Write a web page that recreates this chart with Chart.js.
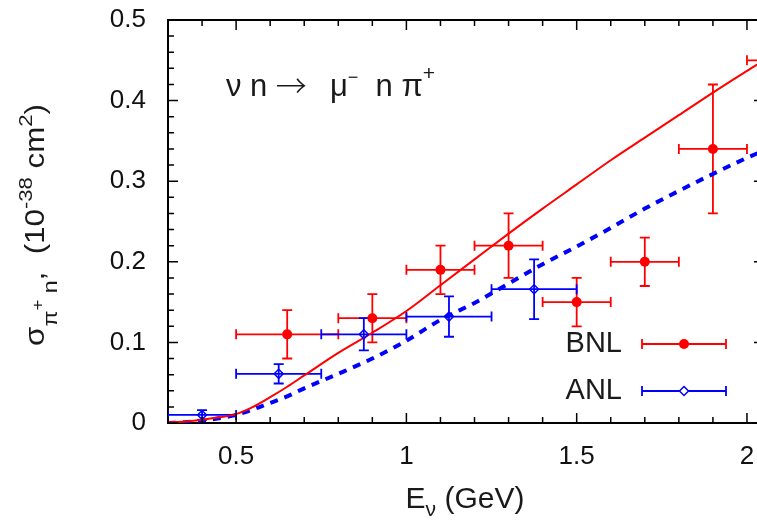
<!DOCTYPE html>
<html>
<head>
<meta charset="utf-8">
<script src="https://cdn.jsdelivr.net/npm/chart.js@4.4.0/dist/chart.umd.min.js"></script>
<style>
html, body { margin: 0; padding: 0; background: #fff; overflow: hidden; }
</style>
</head>
<body>
<canvas id="c" width="770" height="521"></canvas>
<script>
// BNL measurements (filled circles)
const bnlE = [0.65, 0.9, 1.1, 1.3, 1.5, 1.7, 1.9, 2.1];
const bnlELow = [0.5, 0.8, 1.0, 1.2, 1.4, 1.6, 1.8, 2.0];
const bnlEHigh = [0.8, 1.0, 1.2, 1.4, 1.6, 1.8, 2.0, 2.2];
const bnlSigma = [0.11, 0.13, 0.19, 0.22, 0.15, 0.20, 0.34, 0.45];
const bnlErr = [0.03, 0.03, 0.03, 0.04, 0.03, 0.03, 0.08, 0.05];

// ANL measurements (open diamonds)
const anlE = [0.4, 0.625, 0.875, 1.125, 1.375];
const anlELow = [0.3, 0.5, 0.75, 1.0, 1.25];
const anlEHigh = [0.5, 0.75, 1.0, 1.25, 1.5];
const anlSigma = [0.01, 0.061, 0.11, 0.132, 0.166];
const anlErr = [0.006, 0.012, 0.02, 0.025, 0.037];

// model curves
const curveE = [0.3, 0.35, 0.4, 0.45, 0.5, 0.55, 0.6, 0.65, 0.7, 0.8, 0.9, 1.0, 1.1, 1.2, 1.3, 1.4, 1.5, 1.6, 1.7, 1.8, 1.9, 2.0, 2.05, 2.1];
const solidCurve = [0.001, 0.002, 0.004, 0.007, 0.011, 0.02, 0.032, 0.045, 0.059, 0.087, 0.112, 0.139, 0.171, 0.203, 0.235, 0.266, 0.296, 0.326, 0.354, 0.382, 0.41, 0.437, 0.45, 0.463];
const dashedCurve = [0.0, 0.001, 0.003, 0.006, 0.01, 0.017, 0.025, 0.033, 0.043, 0.061, 0.08, 0.102, 0.128, 0.149, 0.173, 0.197, 0.219, 0.242, 0.266, 0.288, 0.309, 0.329, 0.338, 0.347];

const xTickStep = 0.1, xLabelStep = 0.5;
const yTickStep = 0.02, yLabelStep = 0.1;

const red = "#ff0000";
const blue = "#0000ff";
const fontName = '"Liberation Sans", Arial, sans-serif';

const isStep = (v, s) => Math.abs(v / s - Math.round(v / s)) < 1e-6;
const fmt = v => String(+v.toFixed(2));

function points(xs, ys) {
	return xs.map((x, i) => ({ x: x, y: ys[i] }));
}

function errors(xlo, xhi, ys, dy) {
	return ys.map((y, i) => ({ xMin: xlo[i], xMax: xhi[i], yMin: y - dy[i], yMax: y + dy[i] }));
}

/**
 * draws a run of text pieces (size, vertical shift, font) one after another
 */
function drawRich(ctx, parts, x, y, align) {
	const font = p => (p.weight || "normal") + " " + p.size + "px " + (p.family || fontName);
	let w = 0;
	parts.forEach(p => {
		ctx.font = font(p);
		w += ctx.measureText(p.t).width;
	});
	let cx = align === "center" ? x - w / 2 : align === "right" ? x - w : x;
	ctx.textAlign = "left";
	ctx.textBaseline = "alphabetic";
	parts.forEach(p => {
		ctx.font = font(p);
		ctx.fillText(p.t, cx, y + (p.dy || 0));
		cx += ctx.measureText(p.t).width;
	});
}

const errorBarPlugin = {
	id: "errorBars",
	beforeDatasetsDraw(chart) {
		const { ctx, chartArea: a, scales: { x, y } } = chart;
		ctx.save();
		ctx.beginPath();
		ctx.rect(a.left, a.top, a.right - a.left, a.bottom - a.top);
		ctx.clip();
		chart.data.datasets.forEach(ds => {
			if (!ds.errorBars) return;
			ctx.strokeStyle = ds.borderColor;
			ctx.lineWidth = 1.8;
			ds.errorBars.forEach((e, i) => {
				const xp = x.getPixelForValue(ds.data[i].x);
				const yp = y.getPixelForValue(ds.data[i].y);
				const x1 = x.getPixelForValue(e.xMin), x2 = x.getPixelForValue(e.xMax);
				const y1 = y.getPixelForValue(e.yMin), y2 = y.getPixelForValue(e.yMax);
				ctx.beginPath();
				ctx.moveTo(x1, yp); ctx.lineTo(x2, yp);
				ctx.moveTo(x1, yp - 5); ctx.lineTo(x1, yp + 5);
				ctx.moveTo(x2, yp - 5); ctx.lineTo(x2, yp + 5);
				ctx.moveTo(xp, y1); ctx.lineTo(xp, y2);
				ctx.moveTo(xp - 5, y1); ctx.lineTo(xp + 5, y1);
				ctx.moveTo(xp - 5, y2); ctx.lineTo(xp + 5, y2);
				ctx.stroke();
			});
		});
		ctx.restore();
	}
};

const framePlugin = {
	id: "frame",
	afterDraw(chart) {
		const { ctx, chartArea: a, scales: { x, y } } = chart;
		ctx.save();
		ctx.strokeStyle = "#000";
		ctx.lineWidth = 2;
		ctx.beginPath();
		ctx.moveTo(a.left, a.top);
		ctx.lineTo(a.right, a.top);
		ctx.lineTo(a.right, a.bottom);
		ctx.stroke();
		ctx.lineWidth = 1.5;
		ctx.beginPath();
		x.ticks.forEach(t => {
			if (!isStep(t.value, xTickStep)) return;
			const px = x.getPixelForValue(t.value);
			const len = isStep(t.value, xLabelStep) ? 10 : 6;
			ctx.moveTo(px, a.bottom); ctx.lineTo(px, a.bottom - len);
			ctx.moveTo(px, a.top); ctx.lineTo(px, a.top + len);
		});
		y.ticks.forEach(t => {
			if (!isStep(t.value, yTickStep)) return;
			const py = y.getPixelForValue(t.value);
			const len = isStep(t.value, yLabelStep) ? 10 : 6;
			ctx.moveTo(a.left, py); ctx.lineTo(a.left + len, py);
			ctx.moveTo(a.right, py); ctx.lineTo(a.right - len, py);
		});
		ctx.stroke();

		// axis titles and reaction label
		ctx.fillStyle = "#1a1a1a";
		drawRich(ctx, [
			{ t: "E", size: 30 },
			{ t: "\u03bd", size: 21, dy: 8 },
			{ t: " (GeV)", size: 30 }
		], 465, 508, "center");

		ctx.save();
		ctx.translate(44, 225);
		ctx.rotate(-Math.PI / 2);
		ctx.scale(1.16, 1);
		drawRich(ctx, [
			{ t: "\u03c3", size: 27 },
			{ t: "\u03c0", size: 20, dy: 13 },
			{ t: "+", size: 16, dy: -1 },
			{ t: " n", size: 20, dy: 13 },
			{ t: ",  (10", size: 27 },
			{ t: "-38", size: 19, dy: -12 },
			{ t: " cm", size: 27 },
			{ t: "2", size: 19, dy: -12 },
			{ t: ")", size: 27 }
		], 0, 0, "center");
		ctx.restore();

		drawRich(ctx, [
			{ t: "\u03bd n ", size: 31 },
			{ t: "\u2192", size: 31, dy: 1, weight: 300, family: '"Noto Sans CJK SC", "DejaVu Sans", sans-serif' },
			{ t: " ", size: 21 },
			{ t: "  \u03bc", size: 31 },
			{ t: "\u2212", size: 18, dy: -13 },
			{ t: "  n \u03c0", size: 31 },
			{ t: "+", size: 21, dy: -16 }
		], x.getPixelForValue(0.47), y.getPixelForValue(0.406), "left");

		// legend: label, then a sample error bar with its marker
		const rows = [[0, 344], [1, 391]];
		rows.forEach(([di, ly]) => {
			const ds = chart.data.datasets[di];
			ctx.fillStyle = "#1a1a1a";
			ctx.font = "29px " + fontName;
			ctx.textAlign = "right";
			ctx.textBaseline = "middle";
			ctx.fillText(ds.label, 622, ly);
			ctx.strokeStyle = ds.borderColor;
			ctx.lineWidth = 1.8;
			ctx.beginPath();
			ctx.moveTo(642, ly); ctx.lineTo(726, ly);
			ctx.moveTo(642, ly - 5); ctx.lineTo(642, ly + 5);
			ctx.moveTo(726, ly - 5); ctx.lineTo(726, ly + 5);
			ctx.stroke();
			ctx.beginPath();
			if (ds.pointStyle === "rectRot") {
				const r = ds.pointRadius;
				ctx.moveTo(684, ly - r); ctx.lineTo(684 + r, ly); ctx.lineTo(684, ly + r); ctx.lineTo(684 - r, ly); ctx.closePath();
				ctx.fillStyle = "#fff";
				ctx.fill();
				ctx.lineWidth = ds.pointBorderWidth;
				ctx.stroke();
			} else {
				ctx.arc(684, ly, ds.pointRadius, 0, Math.PI * 2);
				ctx.fillStyle = ds.backgroundColor;
				ctx.fill();
			}
		});
		ctx.restore();
	}
};

const config = {
	type: "scatter",
	data: {
		datasets: [
			{
				label: "BNL",
				data: points(bnlE, bnlSigma),
				errorBars: errors(bnlELow, bnlEHigh, bnlSigma, bnlErr),
				borderColor: red,
				backgroundColor: red,
				pointStyle: "circle",
				pointRadius: 5,
				pointBorderWidth: 0
			},
			{
				label: "ANL",
				data: points(anlE, anlSigma),
				errorBars: errors(anlELow, anlEHigh, anlSigma, anlErr),
				borderColor: blue,
				backgroundColor: "rgba(255,255,255,0)",
				pointStyle: "rectRot",
				pointRadius: 4.5,
				pointBorderWidth: 1.5
			},
			{
				label: "model",
				type: "line",
				data: points(curveE, solidCurve),
				borderColor: red,
				borderWidth: 2,
				pointRadius: 0,
				cubicInterpolationMode: "monotone",
				fill: false
			},
			{
				label: "model (dashed)",
				type: "line",
				data: points(curveE, dashedCurve),
				borderColor: blue,
				borderWidth: 4,
				borderDash: [8, 7],
				pointRadius: 0,
				cubicInterpolationMode: "monotone",
				fill: false
			}
		]
	},
	options: {
		responsive: false,
		animation: false,
		devicePixelRatio: 1,
		layout: { padding: { top: 20, right: 5, left: 0, bottom: 0 } },
		plugins: {
			legend: { display: false },
			tooltip: { enabled: false }
		},
		scales: {
			x: {
				type: "linear",
				min: 0.3,
				max: 2.05,
				afterFit(scale) {
					scale.height = 98;
					scale.paddingLeft = 0;
					scale.paddingRight = 0;
				},
				grid: { display: false, drawTicks: false },
				border: { display: true, color: "#000", width: 2 },
				ticks: {
					stepSize: xTickStep,
					includeBounds: false,
					autoSkip: false,
					maxRotation: 0,
					padding: 18,
					color: "#111",
					font: { family: fontName, size: 26 },
					callback: v => isStep(v, xLabelStep) ? fmt(v) : ""
				}
			},
			y: {
				type: "linear",
				min: 0,
				max: 0.5,
				afterFit(scale) {
					scale.width = 168;
					scale.paddingTop = 0;
					scale.paddingBottom = 0;
				},
				grid: { display: false, drawTicks: false },
				border: { display: true, color: "#000", width: 2 },
				ticks: {
					stepSize: yTickStep,
					autoSkip: false,
					padding: 22,
					color: "#111",
					font: { family: fontName, size: 26 },
					callback: v => isStep(v, yLabelStep) ? fmt(v) : ""
				}
			}
		}
	},
	plugins: [errorBarPlugin, framePlugin]
};

new Chart(document.getElementById("c"), config);
</script>
</body>
</html>
